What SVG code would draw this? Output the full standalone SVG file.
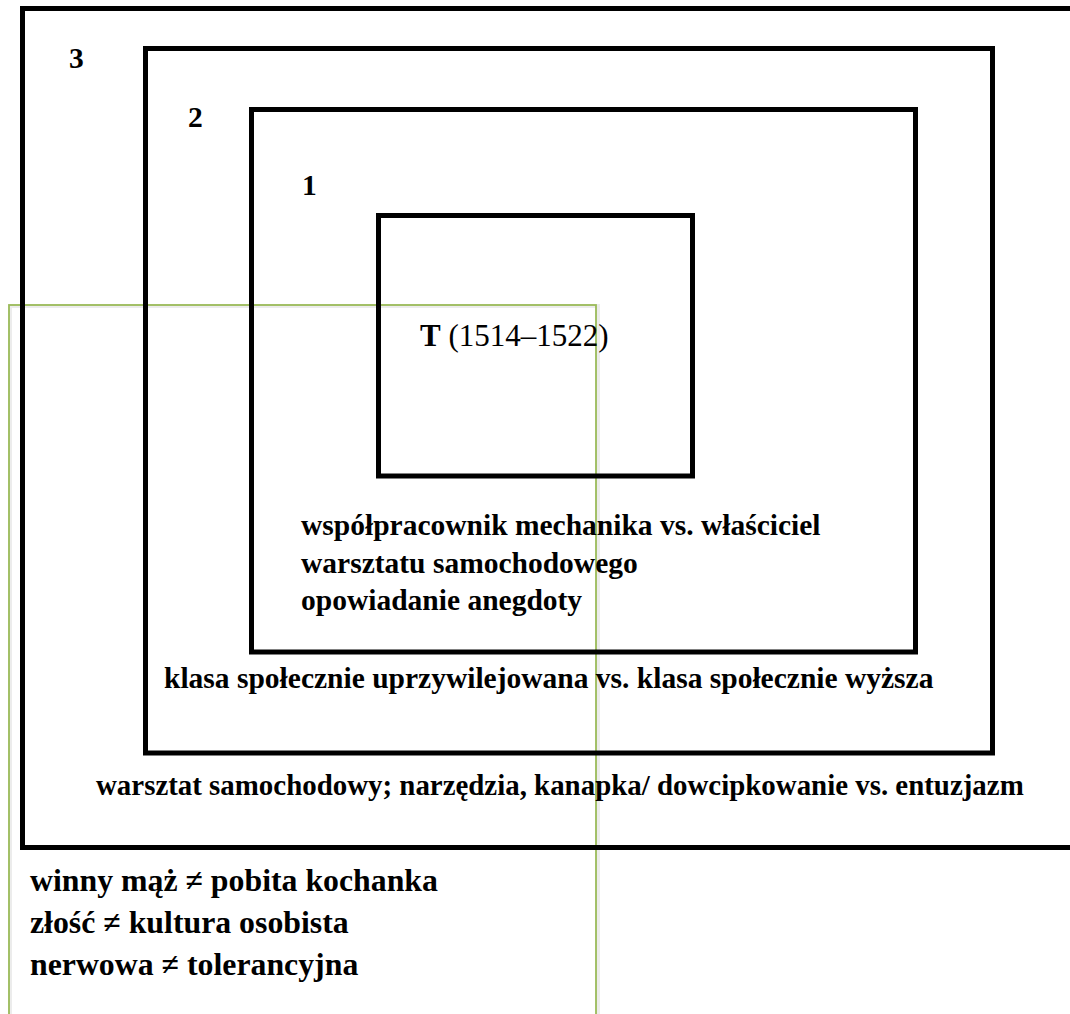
<svg xmlns="http://www.w3.org/2000/svg" width="1070" height="1014" viewBox="0 0 1070 1014">
  <style>
    .frame { fill: none; stroke: #000; stroke-width: 5; }
    .green { fill: none; stroke: #9BBB59; stroke-width: 1.8; }
    .shade { fill: none; stroke: #c8c8c8; stroke-width: 4; opacity: 0.35; }
    .t { font-family: "Liberation Serif", "Times New Roman", serif; font-size: 29.5px; fill: #000; }
    .b { font-weight: bold; }
    .low { font-size: 31.8px; }
  </style>
  <rect width="1070" height="1014" fill="#fff"/>

  <!-- green overlay frame (open at the bottom edge) -->
  <g id="green-frame">
    <rect class="shade" x="10" y="306" width="588" height="740"/>
    <rect class="green" x="9" y="305" width="587" height="740"/>
  </g>

  <!-- level 3: outer frame, runs off the right edge -->
  <g id="level-3">
    <rect class="frame" x="22.5" y="8.5" width="1060" height="839"/>
    <text class="t b" x="69" y="68">3</text>
    <text class="t b" x="96" y="795" style="font-size:28.9px">warsztat samochodowy; narzędzia, kanapka/ dowcipkowanie vs. entuzjazm</text>
  </g>

  <!-- level 2 -->
  <g id="level-2">
    <rect class="frame" x="145.5" y="48.5" width="847" height="704.5"/>
    <text class="t b" x="188" y="127">2</text>
    <text class="t b" x="164" y="688">klasa społecznie uprzywilejowana vs. klasa społecznie wyższa</text>
  </g>

  <!-- level 1 -->
  <g id="level-1">
    <rect class="frame" x="251.5" y="109.5" width="664" height="542.5"/>
    <text class="t b" x="302" y="195">1</text>
    <text class="t b" x="301" y="535">współpracownik mechanika vs. właściciel</text>
    <text class="t b" x="301" y="573">warsztatu samochodowego</text>
    <text class="t b" x="301" y="610">opowiadanie anegdoty</text>
  </g>

  <!-- text core -->
  <g id="core">
    <rect class="frame" x="378.5" y="215.5" width="314" height="260.5"/>
    <text class="t" x="420" y="346" style="font-size:31px"><tspan class="b">T</tspan> (1514–1522)</text>
  </g>

  <!-- oppositions below the frames -->
  <g id="oppositions">
    <text class="t b low" x="30" y="891">winny mąż ≠ pobita kochanka</text>
    <text class="t b low" x="30" y="933">złość ≠ kultura osobista</text>
    <text class="t b low" x="30" y="975">nerwowa ≠ tolerancyjna</text>
  </g>

  <g id="connectors"></g>
</svg>
